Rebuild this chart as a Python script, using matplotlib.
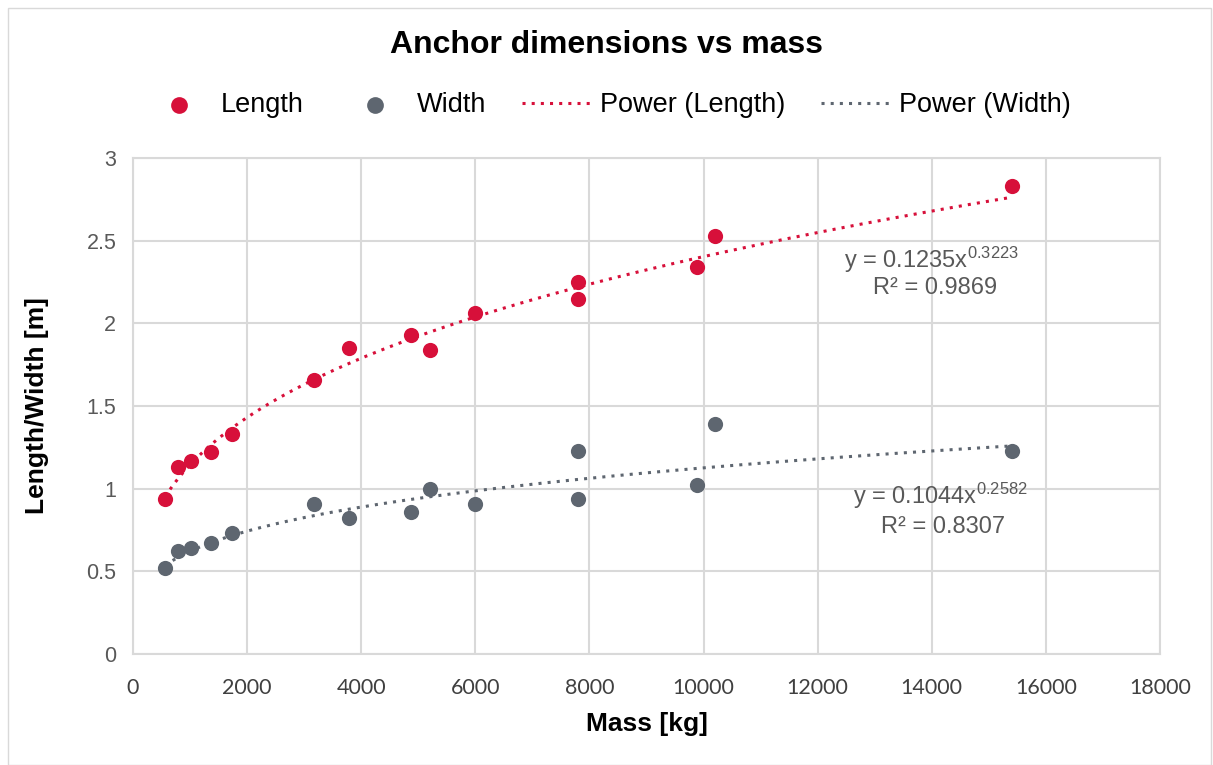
import matplotlib.pyplot as plt
import numpy as np
from matplotlib.patches import Rectangle

plt.rcParams["font.family"] = ["Liberation Sans", "DejaVu Sans"]
plt.rcParams["mathtext.fontset"] = "custom"
plt.rcParams["mathtext.rm"] = "Liberation Sans"
plt.rcParams["mathtext.it"] = "Liberation Sans"

# anchor data
mass = [560, 790, 1020, 1370, 1740, 3170, 3790, 4880, 5210, 6000, 7800, 7800, 9880, 10200, 15400]
length = [0.94, 1.13, 1.17, 1.22, 1.33, 1.66, 1.85, 1.93, 1.84, 2.06, 2.25, 2.15, 2.34, 2.53, 2.83]
width = [0.52, 0.62, 0.64, 0.67, 0.73, 0.91, 0.82, 0.86, 1.00, 0.91, 1.23, 0.94, 1.02, 1.39, 1.23]

# trendline coefficients shown on the chart
len_a, len_b = 0.1235, 0.3223
wid_a, wid_b = 0.1044, 0.2582

red = "#D7103A"
grey = "#5E6670"
grid_col = "#D9D9D9"
text_col = "#595959"

fig = plt.figure(figsize=(12.13, 7.65), dpi=100)
ax = fig.add_axes([133 / 1213, 1 - 654 / 765, (1160 - 133) / 1213, (654 - 158) / 765])

# outer chart border
fig.patches.append(Rectangle((8 / 1213, 0.0), 1 - 8 / 1213 - 2 / 1213, 1 - 8 / 765,
                             transform=fig.transFigure, fill=False,
                             edgecolor="#D9D9D9", linewidth=1))

xs = np.linspace(min(mass), max(mass), 300)
ax.scatter(mass, length, s=120, color=red, zorder=3, label="Length", linewidths=0)
ax.scatter(mass, width, s=120, color=grey, zorder=3, label="Width", linewidths=0)
ax.plot(xs, len_a * xs ** len_b, color=red, linestyle=(0, (1, 2)), linewidth=2.2,
        label="Power (Length)", zorder=2)
ax.plot(xs, wid_a * xs ** wid_b, color=grey, linestyle=(0, (1, 2)), linewidth=2.2,
        label="Power (Width)", zorder=2)

ax.set_xlim(0, 18000)
ax.set_ylim(0, 3)
ax.set_xticks(range(0, 18001, 2000))
ax.set_yticks([0, 0.5, 1, 1.5, 2, 2.5, 3])
ax.set_yticklabels(["0", "0.5", "1", "1.5", "2", "2.5", "3"])
ax.grid(True, color=grid_col, linewidth=1.5)
ax.set_axisbelow(True)
for s in ax.spines.values():
    s.set_color(grid_col)
    s.set_linewidth(1.5)
ax.tick_params(axis="y", length=0, labelsize=15.5, colors=text_col, pad=12)
ax.tick_params(axis="x", length=0, labelsize=15.5, colors="#404040", pad=17)
for lbl in ax.get_xticklabels():
    lbl.set_fontfamily("Lato")

ax.set_xlabel("Mass [kg]", fontsize=19, fontweight="bold", labelpad=10)
ax.set_ylabel("Length/Width [m]", fontsize=19, fontweight="bold", labelpad=27)
fig.suptitle("Anchor dimensions vs mass", fontsize=23, fontweight="bold", y=1 - 45 / 765, va="center")

ax.text(14000, 2.385, r"y = 0.1235x$^{0.3223}$", fontsize=17, color=text_col, ha="center", va="center")
ax.text(14050, 2.215, "R² = 0.9869", fontsize=17, color=text_col, ha="center", va="center")
ax.text(14150, 0.955, r"y = 0.1044x$^{0.2582}$", fontsize=17, color=text_col, ha="center", va="center")
ax.text(14200, 0.77, "R² = 0.8307", fontsize=17, color=text_col, ha="center", va="center")

fig.legend(loc="center", bbox_to_anchor=(0.5, 1 - 105 / 765), ncol=4, frameon=False,
           fontsize=19.5, handlelength=2.7, columnspacing=1.3, handletextpad=0.2,
           markerscale=1.1)

fig.savefig("out.png", dpi=100)
